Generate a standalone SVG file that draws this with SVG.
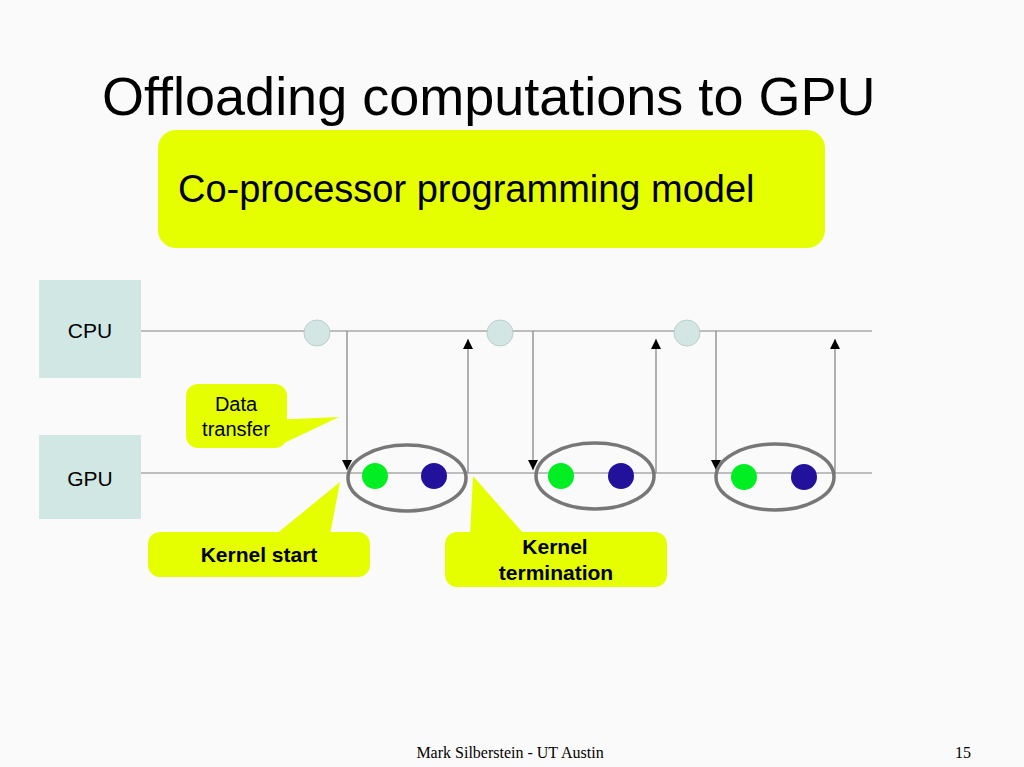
<svg xmlns="http://www.w3.org/2000/svg" width="1024" height="767" viewBox="0 0 1024 767">
<defs>
<style>
.t{font-family:"Liberation Sans",Arial,sans-serif;fill:#000}
.y{fill:#e6ff00}
.box{fill:#d1e7e4}
.ln{stroke:#aaa;stroke-width:1.3;fill:none}
.ar{stroke:#888;stroke-width:1.3;fill:none}
.cp{fill:#d4e6e3;stroke:#b8d0cc;stroke-width:1}
.el{fill:none;stroke:#777;stroke-width:3.5}
.g{fill:#00ee22}.b{fill:#22119a}
</style>
<marker id="ah" viewBox="0 0 10 10" refX="10" refY="5" markerWidth="10" markerHeight="16" markerUnits="userSpaceOnUse" orient="auto"><path d="M0,0L10,5L0,10z" fill="#000"/></marker>
</defs>
<rect width="1024" height="767" fill="#fafafa"/>
<text class="t" x="102" y="115" font-size="54">Offloading computations to GPU</text>
<g id="model"><rect class="y" x="158" y="130" width="667" height="118" rx="18"/><text class="t" x="178" y="202" font-size="38">Co-processor programming model</text></g>
<g id="cpu"><rect class="box" x="39" y="280" width="102" height="98"/><text class="t" x="90" y="338" font-size="21" text-anchor="middle">CPU</text></g>
<g id="gpu"><rect class="box" x="39" y="435" width="102" height="84"/><text class="t" x="90" y="486" font-size="21" text-anchor="middle">GPU</text></g>
<g id="connectors">
<line class="ln" x1="141" y1="331" x2="872" y2="331"/>
<line class="ln" x1="141" y1="473" x2="872" y2="473"/>
<line class="ar" x1="347" y1="331" x2="347" y2="470" marker-end="url(#ah)"/>
<line class="ar" x1="533" y1="331" x2="533" y2="470" marker-end="url(#ah)"/>
<line class="ar" x1="716" y1="331" x2="716" y2="470" marker-end="url(#ah)"/>
<line class="ar" x1="468" y1="473" x2="468" y2="339" marker-end="url(#ah)"/>
<line class="ar" x1="656" y1="473" x2="656" y2="339" marker-end="url(#ah)"/>
<line class="ar" x1="835" y1="473" x2="835" y2="339" marker-end="url(#ah)"/>
</g>
<g id="cpu-events"><circle class="cp" cx="317" cy="333" r="13"/><circle class="cp" cx="500" cy="333" r="13"/><circle class="cp" cx="687" cy="333" r="13"/></g>
<g id="kernel1"><ellipse class="el" cx="407" cy="478" rx="59" ry="33"/><circle class="g" cx="375" cy="476" r="13"/><circle class="b" cx="434" cy="476" r="13"/></g>
<g id="kernel2"><ellipse class="el" cx="595" cy="476" rx="59" ry="33"/><circle class="g" cx="561" cy="476" r="13"/><circle class="b" cx="621" cy="476" r="13"/></g>
<g id="kernel3"><ellipse class="el" cx="775" cy="477" rx="59" ry="33"/><circle class="g" cx="744" cy="477" r="13"/><circle class="b" cx="804" cy="477" r="13"/></g>
<g id="data-transfer"><path class="y" d="M270,420 L339,417 L280,445 Z"/><rect class="y" x="186" y="384" width="101" height="64" rx="12"/><text class="t" font-size="20" text-anchor="middle"><tspan x="236" y="411">Data</tspan><tspan x="236" y="436">transfer</tspan></text></g>
<g id="kernel-start"><path class="y" d="M275,535 L340,482 L330,535 Z"/><rect class="y" x="148" y="532" width="222" height="45" rx="12"/><text class="t" x="259" y="562" font-size="21" font-weight="bold" text-anchor="middle">Kernel start</text></g>
<g id="kernel-termination"><path class="y" d="M470,535 L473,476 L525,535 Z"/><rect class="y" x="445" y="532" width="222" height="55" rx="12"/><text class="t" font-size="21" font-weight="bold" text-anchor="middle"><tspan x="555" y="554">Kernel</tspan><tspan x="556" y="580">termination</tspan></text></g>
<text x="510" y="758" font-family="Liberation Serif,serif" font-size="16" text-anchor="middle">Mark Silberstein - UT Austin</text>
<text x="963" y="758" font-family="Liberation Serif,serif" font-size="16" text-anchor="middle">15</text>
</svg>
